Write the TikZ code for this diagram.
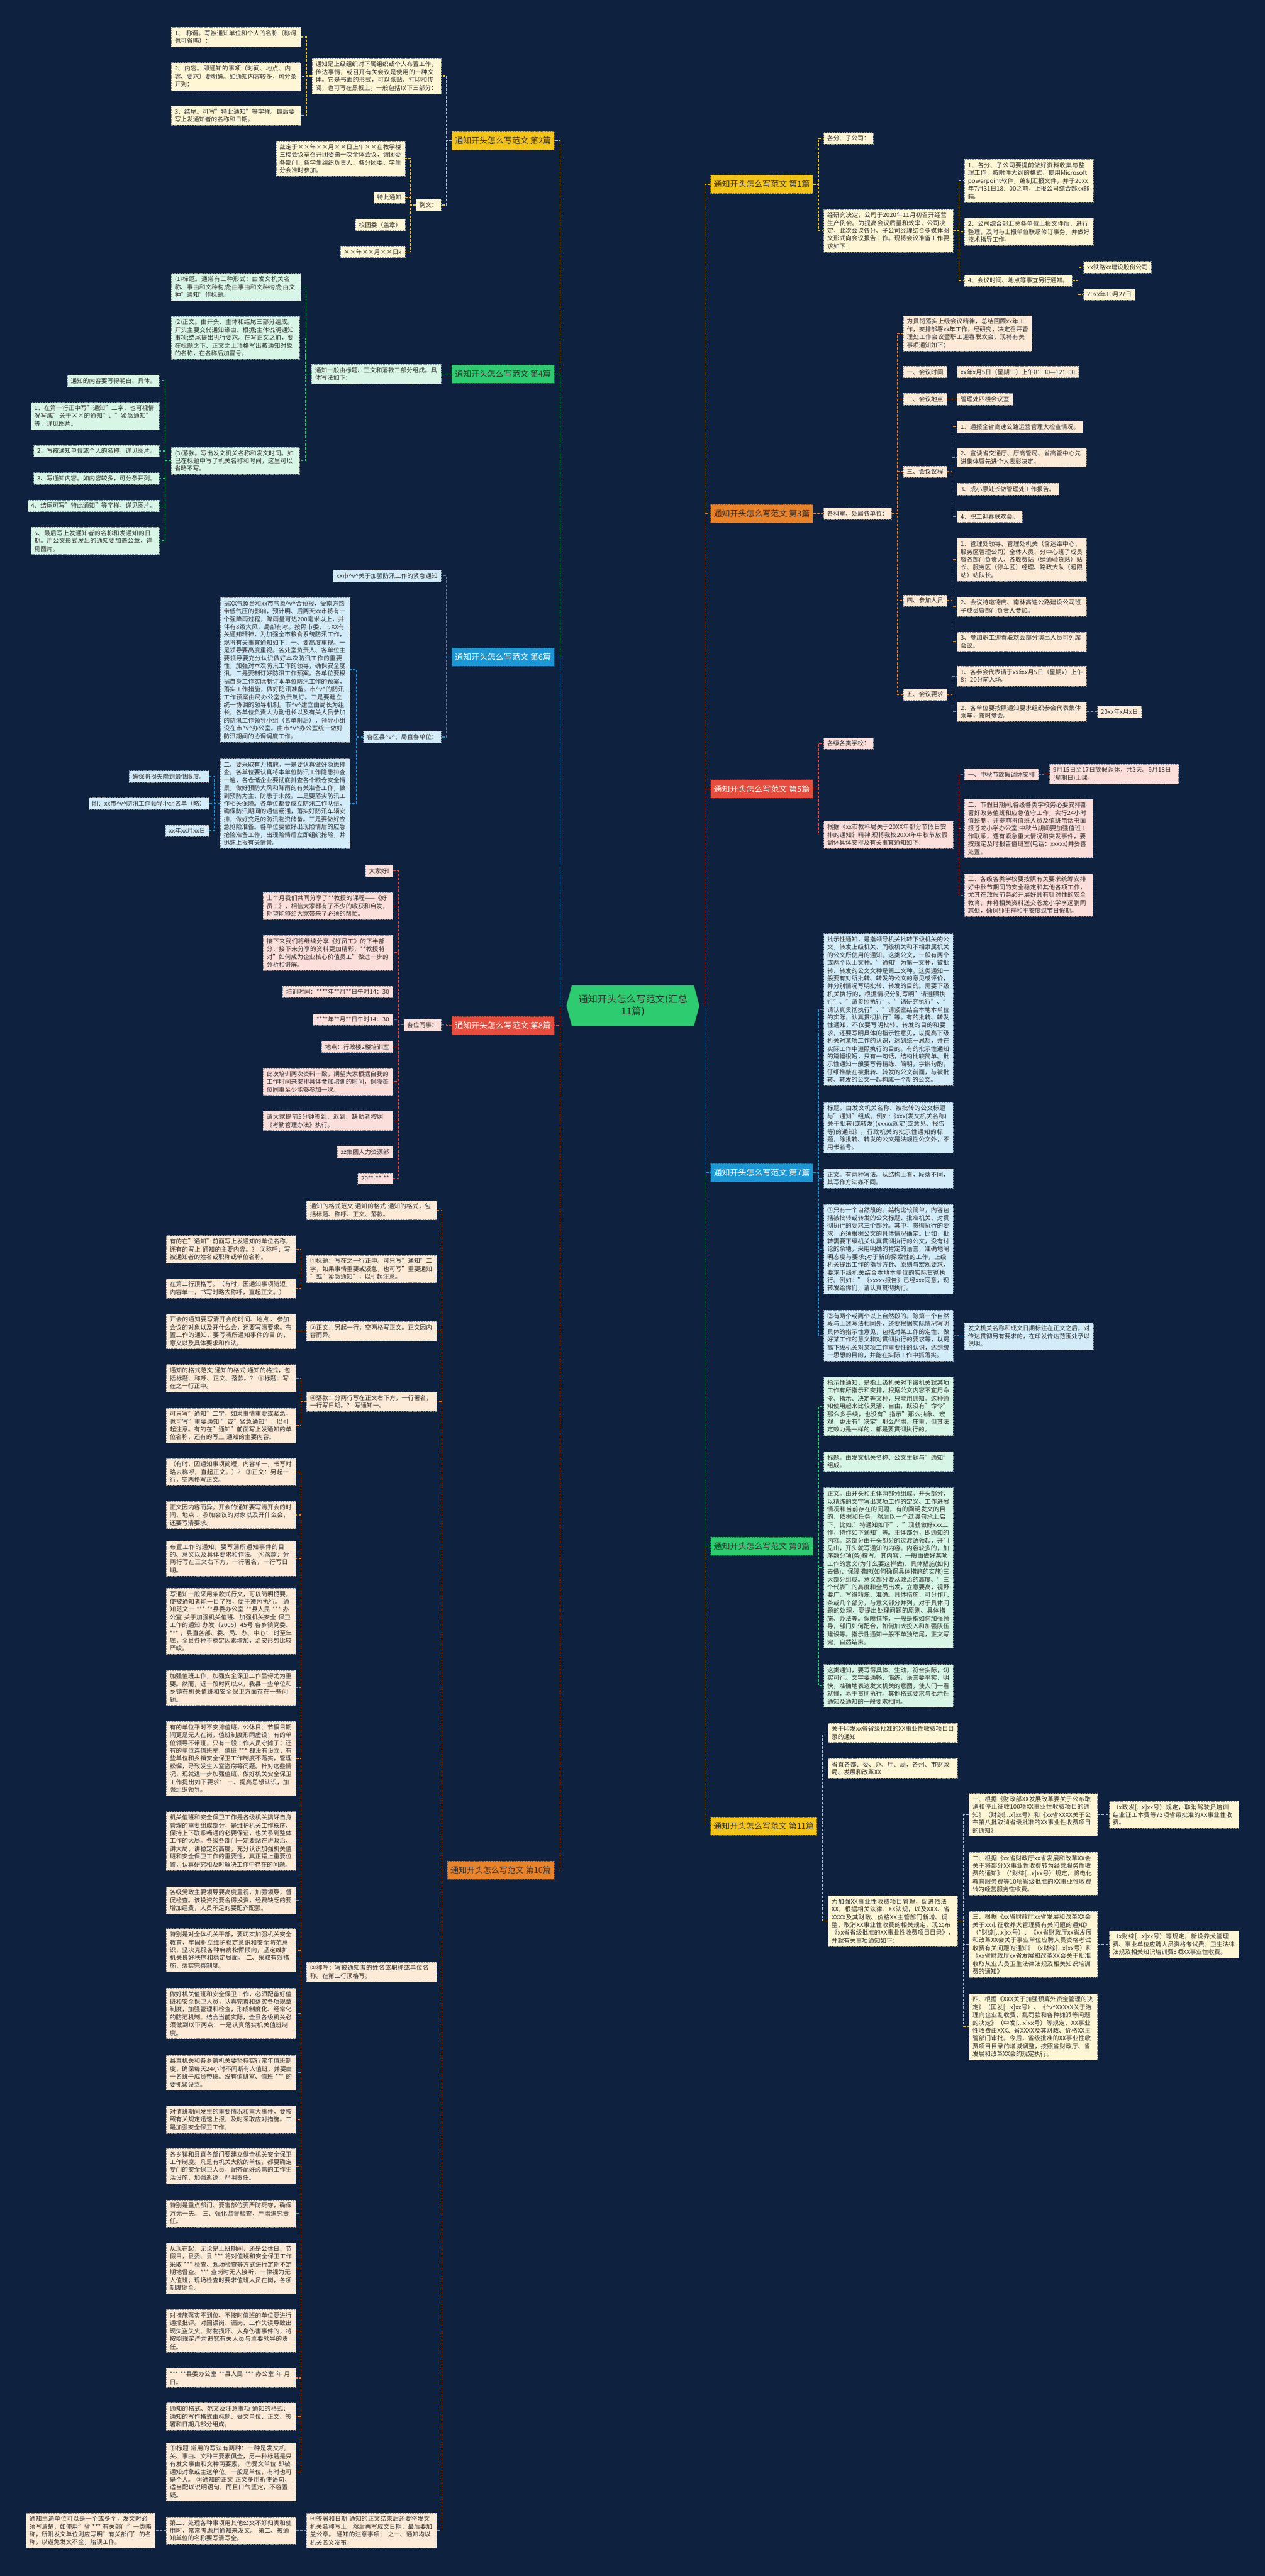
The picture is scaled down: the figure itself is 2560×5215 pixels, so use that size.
\documentclass[tikz,border=0pt]{standalone}
\usepackage{fontspec}
\setmainfont{Noto Sans CJK SC}
\usetikzlibrary{calc,shapes.symbols}
\XeTeXlinebreaklocale "zh"
\XeTeXlinebreakskip=0pt plus 1pt
\definecolor{bg}{HTML}{0E2240}
\definecolor{cY}{HTML}{F3C316}
\definecolor{cO}{HTML}{E8832A}
\definecolor{cG}{HTML}{2ECC71}
\definecolor{cR}{HTML}{E74C3C}
\definecolor{cB}{HTML}{1C97D6}
\definecolor{fY}{HTML}{FEF6D5}
\definecolor{fO}{HTML}{FDEBD8}
\definecolor{fG}{HTML}{D8F6E5}
\definecolor{fR}{HTML}{FCDEDA}
\definecolor{fB}{HTML}{D3ECFA}
\definecolor{txt}{HTML}{2E2E2E}
\newcommand\vv{\textasciicircum v\textasciicircum}
\newcommand\er[3]{\draw[#1] (#2.east) -| ($(#2.east)!.5!(#3.west)$) |- (#3.west);}
\newcommand\el[3]{\draw[#1] (#2.west) -| ($(#2.west)!.5!(#3.east)$) |- (#3.east);}
\tikzset{
 leaf/.style={rectangle, align=left, inner xsep=7pt, inner ysep=6pt, font=\fontsize{12.3}{15.8}\selectfont, text=txt, draw=black!45, dash pattern=on 3pt off 2pt, line width=0.7pt},
 ly/.style={leaf, fill=fY}, lo/.style={leaf, fill=fO}, lg/.style={leaf, fill=fG},
 lr/.style={leaf, fill=fR}, lb/.style={leaf, fill=fB},
 tw/.style={text width=#1pt},
 brn/.style={rectangle, minimum width=207pt, minimum height=37pt, inner xsep=5pt, font=\fontsize{16.5}{19}\selectfont, dash pattern=on 3pt off 2pt, line width=0.8pt},
 bY/.style={brn, fill=cY, draw=cY!55!black, text=txt},
 bO/.style={brn, fill=cO, draw=cO!55!black, text=txt},
 bG/.style={brn, fill=cG, draw=cG!55!black, text=txt},
 bR/.style={brn, fill=cR, draw=cR!55!black, text=white},
 bB/.style={brn, fill=cB, draw=cB!55!black, text=white},
 ln/.style={dash pattern=on 5pt off 3pt, line width=1.6pt},
 kY/.style={ln, draw=cY}, kO/.style={ln, draw=cO}, kG/.style={ln, draw=cG},
 kR/.style={ln, draw=cR}, kB/.style={ln, draw=cB},
 central/.style={signal, signal to=west and east, signal pointer angle=150, fill=cG, draw=cG!70!black, minimum width=269pt, minimum height=82pt, align=center, text=txt, font=\fontsize{19.5}{25}\selectfont}
}
\begin{document}
\begin{tikzpicture}[x=1pt,y=-1pt]
\useasboundingbox (0,0) rectangle (2560,5215);
\fill[bg] (0,0) rectangle (2560,5215);

% ---------------- central
\node[central] (c) at (1281,2036) {通知开头怎么写范文(汇总\\11篇)};

% ---------------- branches
\node[bY, anchor=east] (b2) at (1122,285) {通知开头怎么写范文 第2篇};
\node[bG, anchor=east] (b4) at (1122,757) {通知开头怎么写范文 第4篇};
\node[bB, anchor=east] (b6) at (1122,1330) {通知开头怎么写范文 第6篇};
\node[bR, anchor=east] (b8) at (1122,2076) {通知开头怎么写范文 第8篇};
\node[bO, anchor=east, minimum width=216pt] (b10) at (1122,3786) {通知开头怎么写范文 第10篇};
\node[bY, anchor=west] (b1) at (1438,373) {通知开头怎么写范文 第1篇};
\node[bO, anchor=west] (b3) at (1438,1040) {通知开头怎么写范文 第3篇};
\node[bR, anchor=west] (b5) at (1438,1597) {通知开头怎么写范文 第5篇};
\node[bB, anchor=west] (b7) at (1438,2374) {通知开头怎么写范文 第7篇};
\node[bG, anchor=west] (b9) at (1438,3130) {通知开头怎么写范文 第9篇};
\node[bY, anchor=west, minimum width=215pt] (b11) at (1438,3697) {通知开头怎么写范文 第11篇};

% ---------------- branch 2
\node[ly, tw=247, anchor=east] (b2a) at (893,154) {通知是上级组织对下属组织或个人布置工作，传达事情，或召开有关会议是使用的一种文体。它是书面的形式，可以张贴、打印和传阅，也可写在黑板上。一般包括以下三部分：};
\node[ly, tw=248, anchor=east] (b2a1) at (609,75) {1、 称谓。写被通知单位和个人的名称（称谓也可省略）；};
\node[ly, tw=248, anchor=east] (b2a2) at (609,155) {2、内容。即通知的事项（时间、地点、内容、要求）要明确。如通知内容较多，可分条开列；};
\node[ly, tw=248, anchor=east] (b2a3) at (609,234) {3、结尾。可写"特此通知"等字样。最后要写上发通知者的名称和日期。};
\node[ly, anchor=east] (b2b) at (893,415) {例文：};
\node[ly, tw=247, anchor=east] (b2b1) at (820,321) {兹定于××年××月××日上午××在教学楼三楼会议室召开团委第一次全体会议，请团委各部门、各学生组织负责人、各分团委、学生分会准时参加。};
\node[ly, anchor=east] (b2b2) at (820,400) {特此通知};
\node[ly, anchor=east] (b2b3) at (820,455) {校团委（盖章）};
\node[ly, anchor=east] (b2b4) at (820,510) {××年××月××日x};
\el{kY}{b2}{b2a} \el{kY}{b2}{b2b}
\el{kY}{b2a}{b2a1} \el{kY}{b2a}{b2a2} \el{kY}{b2a}{b2a3}
\el{kY}{b2b}{b2b1} \el{kY}{b2b}{b2b2} \el{kY}{b2b}{b2b3} \el{kY}{b2b}{b2b4}

% ---------------- branch 4
\node[lg, tw=248, anchor=east] (b4a) at (893,757) {通知一般由标题、正文和落款三部分组成。具体写法如下：};
\node[lg, tw=248, anchor=east] (b4a1) at (609,581) {(1)标题。通常有三种形式：由发文机关名称、事由和文种构成;由事由和文种构成;由文种"通知"作标题。};
\node[lg, tw=246, anchor=east] (b4a2) at (607,684) {(2)正文。由开头、主体和结尾三部分组成。开头主要交代通知缘由、根据;主体说明通知事项;结尾提出执行要求。在写正文之前，要在标题之下、正文之上顶格写出被通知对象的名称，在名称后加冒号。};
\node[lg, tw=246, anchor=east] (b4a3) at (607,933) {(3)落款。写出发文机关名称和发文时间。如已在标题中写了机关名称和时间，这里可以省略不写。};
\node[lg, anchor=east] (b4c1) at (323,771) {通知的内容要写得明白、具体。};
\node[lg, tw=246, anchor=east] (b4c2) at (323,842) {1、在第一行正中写"通知"二字，也可视情况写成"关于××的通知"、"紧急通知"等，详见图片。};
\node[lg, anchor=east] (b4c3) at (323,913) {2、写被通知单位或个人的名称，详见图片。};
\node[lg, anchor=east] (b4c4) at (323,969) {3、写通知内容。如内容较多，可分条开列。};
\node[lg, anchor=east] (b4c5) at (323,1024) {4、结尾可写"特此通知"等字样，详见图片。};
\node[lg, tw=246, anchor=east] (b4c6) at (323,1095) {5、最后写上发通知者的名称和发通知的日期。用公文形式发出的通知要加盖公章，详见图片。};
\el{kG}{b4}{b4a}
\el{kG}{b4a}{b4a1} \el{kG}{b4a}{b4a2} \el{kG}{b4a}{b4a3}
\el{kG}{b4a3}{b4c1} \el{kG}{b4a3}{b4c2} \el{kG}{b4a3}{b4c3} \el{kG}{b4a3}{b4c4} \el{kG}{b4a3}{b4c5} \el{kG}{b4a3}{b4c6}

% ---------------- branch 6
\node[lb, anchor=east] (b6a) at (893,1166) {xx市\vv{}关于加强防汛工作的紧急通知};
\node[lb, anchor=east] (b6b) at (893,1492) {各区县\vv{}、局直各单位：};
\node[lb, tw=248, anchor=east] (b6b1) at (708,1356) {据XX气象台和xx市气象\vv{}合预报，受南方热带低气压的影响，预计明、后两天xx市将有一个强降雨过程，降雨量可达200毫米以上，并伴有8级大风，局部有冰。按照市委、市XX有关通知精神，为加强全市粮食系统防汛工作，现将有关事宜通知如下：一、要高度重视。一是领导要高度重视。各处室负责人、各单位主要领导要充分认识做好本次防汛工作的重要性，加强对本次防汛工作的领导，确保安全度汛。二是要制订好防汛工作预案。各单位要根据自身工作实际制订本单位防汛工作的预案，落实工作措施，做好防汛准备。市\vv{}的防汛工作预案由局办公室负责制订。三是要建立统一协调的领导机制。市\vv{}建立由局长为组长，各单位负责人为副组长以及有关人员参加的防汛工作领导小组（名单附后），领导小组设在市\vv{}办公室。由市\vv{}办公室统一做好防汛期间的协调调度工作。};
\node[lb, tw=248, anchor=east] (b6b2) at (708,1627) {二、要采取有力措施。一是要认真做好隐患排查。各单位要认真将本单位防汛工作隐患排查一遍，各仓储企业要彻底排查各个粮仓安全情景，做好预防大风和降雨的有关准备工作，做到预防为主，防患于未然。二是要落实防汛工作相关保障。各单位都要成立防汛工作队伍，确保防汛期间的通信畅通，落实好防汛车辆安排，做好充足的防汛物资储备。三是要做好应急抢险准备。各单位要做好出现险情后的应急抢险准备工作，出现险情后立即组织抢险，并迅速上报有关情景。};
\node[lb, anchor=east] (b6c1) at (423,1572) {确保将损失降到最低限度。};
\node[lb, anchor=east] (b6c2) at (423,1627) {附：xx市\vv{}防汛工作领导小组名单（略）};
\node[lb, anchor=east] (b6c3) at (423,1682) {xx年xx月xx日};
\el{kB}{b6}{b6a} \el{kB}{b6}{b6b}
\el{kB}{b6b}{b6b1} \el{kB}{b6b}{b6b2}
\el{kB}{b6b2}{b6c1} \el{kB}{b6b2}{b6c2} \el{kB}{b6b2}{b6c3}

% ---------------- branch 8
\node[lr, anchor=east] (b8a) at (893,2075) {各位同事：};
\node[lr, anchor=east] (b8c1) at (795,1763) {大家好!};
\node[lr, tw=248, anchor=east] (b8c2) at (795,1834) {上个月我们共同分享了**教授的课程——《好员工》，相信大家都有了不少的收获和启发，期望能够给大家带来了必须的帮忙。};
\node[lr, tw=248, anchor=east] (b8c3) at (795,1929) {接下来我们将继续分享《好员工》的下半部分，接下来分享的资料更加精彩，**教授将对"如何成为企业核心价值员工"做进一步的分析和讲解。};
\node[lr, anchor=east] (b8c4) at (795,2008) {培训时间：****年**月**日午时14：30};
\node[lr, anchor=east] (b8c5) at (795,2064) {****年**月**日午时14：30};
\node[lr, anchor=east] (b8c6) at (795,2119) {地点：行政楼2楼培训室};
\node[lr, tw=248, anchor=east] (b8c7) at (795,2190) {此次培训两次资料一致，期望大家根据自我的工作时间来安排具体参加培训的时间，保障每位同事至少能够参加一次。};
\node[lr, tw=248, anchor=east] (b8c8) at (795,2269) {请大家提前5分钟签到，迟到、缺勤者按照《考勤管理办法》执行。};
\node[lr, anchor=east] (b8c9) at (795,2332) {zz集团人力资源部};
\node[lr, anchor=east] (b8c10) at (795,2386) {20**-**-**};
\el{kR}{b8}{b8a}
\foreach \i in {1,...,10} {\el{kR}{b8a}{b8c\i}}

% ---------------- branch 10
\node[lo, tw=249, anchor=east] (b10a1) at (884,2450) {通知的格式范文 通知的格式 通知的格式，包括标题、称呼、正文、落款。};
\node[lo, tw=249, anchor=east] (b10a2) at (884,2569) {①标题：写在之一行正中。可只写"通知"二字，如果事情重要或紧急，也可写"重要通知 "或"紧急通知"，以引起注意。};
\node[lo, tw=249, anchor=east] (b10a3) at (884,2695) {③正文：另起一行，空两格写正文。正文因内容而异。};
\node[lo, tw=249, anchor=east] (b10a4) at (884,2838) {④落款：分两行写在正文右下方，一行署名，一行写日期。？ 写通知一。};
\node[lo, tw=249, anchor=east] (b10a5) at (884,3992) {②称呼：写被通知者的姓名或职称或单位名称。在第二行顶格写。};
\node[lo, tw=249, anchor=east] (b10a6) at (884,5123) {④签署和日期 通知的正文结束后还要将发文机关名称写上，然后再写成文日期，最后要加盖公章。 通知的注意事项： 之一、通知均以机关名义发布。};
\node[lo, tw=248, anchor=east] (b10b1) at (599,2529) {有的在"通知"前面写上发通知的单位名称，还有的写上 通知的主要内容。？ ②称呼：写被通知者的姓名或职称或单位名称。};
\node[lo, tw=248, anchor=east] (b10b2) at (599,2608) {在第二行顶格写。（有时，因通知事项简短，内容单一，书写时略去称呼，直起正文。）};
\node[lo, tw=248, anchor=east] (b10b3) at (599,2695) {开会的通知要写清开会的时间、地点 、参加会议的对象以及开什么会，还要写清要求。布置工作的通知，要写清所通知事件的目 的、意义以及具体要求和作法。};
\node[lo, tw=248, anchor=east] (b10b4) at (599,2790) {通知的格式范文 通知的格式 通知的格式，包括标题、称呼、正文、落款。？ ①标题：写在之一行正中。};
\node[lo, tw=248, anchor=east] (b10b5) at (599,2886) {可只写"通知"二字，如果事情重要或紧急，也可写"重要通知 "或"紧急通知"，以引起注意。有的在"通知"前面写上发通知的单位名称，还有的写上 通知的主要内容。};
\node[lo, tw=248, anchor=east] (b10d1) at (599,2980) {（有时，因通知事项简短，内容单一，书写时略去称呼，直起正文。）？ ③正文：另起一行，空两格写正文。};
\node[lo, tw=248, anchor=east] (b10d2) at (599,3067) {正文因内容而异。开会的通知要写清开会的时间、地点 、参加会议的对象以及开什么会，还要写清要求。};
\node[lo, tw=248, anchor=east] (b10d3) at (599,3155) {布置工作的通知，要写清所通知事件的目 的、意义以及具体要求和作法。 ④落款：分两行写在正文右下方，一行署名，一行写日期。};
\node[lo, tw=248, anchor=east] (b10d4) at (599,3282) {写通知一般采用条款式行文，可以简明扼要，使被通知者能一目了然，便于遵照执行。 通知范文一 *** **县委办公室 **县人民 *** 办公室 关于加强机关值班、加强机关安全 保卫工作的通知 办发〔2005〕45号 各乡镇党委、 *** ，县直各部、委、局、办、中心： 时至年底，全县各种不稳定因素增加，治安形势比较严峻。};
\node[lo, tw=248, anchor=east] (b10d5) at (599,3417) {加强值班工作，加强安全保卫工作显得尤为重要。然而，近一段时间以来，我县一些单位和乡镇在机关值班和安全保卫方面存在一些问题。};
\node[lo, tw=248, anchor=east] (b10d6) at (599,3560) {有的单位平时不安排值班，公休日、节假日期间更是无人在岗，值班制度形同虚设；有的单位领导不带班，只有一般工作人员守摊子；还有的单位连值班室、值班 *** 都没有设立，有些单位和乡镇安全保卫工作制度不落实，管理松懈，导致发生入室盗窃等问题。针对这些情况，现就进一步加强值班、做好机关安全保卫工作提出如下要求： 一、提高思想认识，加强组织领导。};
\node[lo, tw=248, anchor=east] (b10d7) at (599,3727) {机关值班和安全保卫工作是各级机关搞好自身管理的重要组成部分，是维护机关工作秩序、保持上下联系畅通的必要保证，也关系到整体工作的大局。各级各部门一定要站在讲政治、讲大局、讲稳定的高度，充分认识加强机关值班和安全保卫工作的重要性，真正摆上重要位置，认真研究和及时解决工作中存在的问题。};
\node[lo, tw=248, anchor=east] (b10d8) at (599,3847) {各级党政主要领导要高度重视，加强领导，督促检查。该投资的要舍得投资，经费缺乏的要增加经费，人员不足的要配齐配强。};
\node[lo, tw=248, anchor=east] (b10d9) at (599,3948) {特别是对全体机关干部，要切实加强机关安全教育，牢固树立维护稳定意识和安全防范意识，坚决克服各种麻痹松懈倾向，坚定维护机关良好秩序和稳定局面。 二、采取有效措施，落实完善制度。};
\node[lo, tw=248, anchor=east] (b10d10) at (599,4076) {做好机关值班和安全保卫工作，必须配备好值班和安全保卫人员，认真完善和落实各项规章制度，加强管理和检查，形成制度化、经常化的防范机制。结合当前实际，全县各级机关必须做到以下两点：一是认真落实机关值班制度。};
\node[lo, tw=248, anchor=east] (b10d11) at (599,4196) {县直机关和各乡镇机关要坚持实行常年值班制度，确保每天24小时不间断有人值班，并要由一名班子成员带班。没有值班室、值班 *** 的要抓紧设立。};
\node[lo, tw=248, anchor=east] (b10d12) at (599,4291) {对值班期间发生的重要情况和重大事件，要按照有关规定迅速上报，及时采取应对措施。二是加强安全保卫工作。};
\node[lo, tw=248, anchor=east] (b10d13) at (599,4385) {各乡镇和县直各部门要建立健全机关安全保卫工作制度。凡是有机关大院的单位，都要确定专门的安全保卫人员，配齐配好必需的工作生活设施，加强巡逻，严明责任。};
\node[lo, tw=248, anchor=east] (b10d14) at (599,4481) {特别是重点部门、要害部位要严防死守，确保万无一失。 三、强化监督检查，严肃追究责任。};
\node[lo, tw=248, anchor=east] (b10d15) at (599,4592) {从现在起，无论是上班期间，还是公休日、节假日，县委、县 *** 将对值班和安全保卫工作采取 *** 检查、现场检查等方式进行定期不定期地督查。*** 查岗时无人接听，一律视为无人值班；现场检查时要求值班人员在岗，各项制度健全。};
\node[lo, tw=248, anchor=east] (b10d16) at (599,4719) {对措施落实不到位、不按时值班的单位要进行通报批评。对因误岗、漏岗、工作失误导致出现失盗失火、财物损坏、人身伤害事件的，将按照规定严肃追究有关人员与主要领导的责任。};
\node[lo, tw=248, anchor=east] (b10d17) at (599,4814) {*** **县委办公室 **县人民 *** 办公室 年 月 日。};
\node[lo, tw=248, anchor=east] (b10d18) at (599,4892) {通知的格式、范文及注意事项 通知的格式：通知的写作格式由标题、受文单位、正文、签署和日期几部分组成。};
\node[lo, tw=248, anchor=east] (b10d19) at (599,5004) {①标题 常用的写法有两种：一种是发文机关、事由、文种三要素俱全，另一种标题是只有发文事由和文种两要素， ②受文单位 即被通知对象或主送单位，一般是单位，有时也可是个人。 ③通知的正文 正文多用祈使语句，适当配以说明语句，而且口气坚定，不容置疑。};
\node[lo, tw=248, anchor=east] (b10e1) at (599,5123) {第二、处理各种事项用其他公文不好归类和使用时，常常考虑用通知来发文。 第二、被通知单位的名称要写清写全。};
\node[lo, tw=247, anchor=east] (b10e2) at (314,5123) {通知主送单位可以是一个或多个，发文时必须写清楚，如使用"省 *** 有关部门"一类略称，所附发文单位则应写明"有关部门"的名称，以避免发文不全，贻误工作。};
\foreach \i in {1,...,6} {\el{kO}{b10}{b10a\i}}
\el{kO}{b10a2}{b10b1} \el{kO}{b10a2}{b10b2} \el{kO}{b10a3}{b10b3}
\el{kO}{b10a4}{b10b4} \el{kO}{b10a4}{b10b5}
\foreach \i in {1,...,19} {\el{kO}{b10a5}{b10d\i}}
\el{kO}{b10a6}{b10e1} \el{kO}{b10e1}{b10e2}

% ---------------- branch 1
\node[ly, anchor=west] (b1a) at (1667,280) {各分、子公司：};
\node[ly, tw=248, anchor=west] (b1b) at (1667,467) {经研究决定，公司于2020年11月初召开经营生产例会。为提高会议质量和效率，公司决定，此次会议各分、子公司经理结合多媒体图文形式向会议报告工作。现将会议准备工作要求如下：};
\node[ly, tw=247, anchor=west] (b1b1) at (1952,366) {1、各分、子公司要提前做好资料收集与整理工作，按附件大纲的格式，使用Microsoft powerpoint软件，编制汇报文件，并于20xx年7月31日18：00之前，上报公司综合部xx邮箱。};
\node[ly, tw=247, anchor=west] (b1b2) at (1952,469) {2、公司综合部汇总各单位上报文件后，进行整理，及时与上报单位联系修订事务，并做好技术指导工作。};
\node[ly, anchor=west] (b1b3) at (1952,568) {4、会议时间、地点等事宜另行通知。};
\node[ly, anchor=west] (b1d1) at (2193,541) {xx铁路xx建设股份公司};
\node[ly, anchor=west] (b1d2) at (2193,596) {20xx年10月27日};
\er{kY}{b1}{b1a} \er{kY}{b1}{b1b}
\er{kY}{b1b}{b1b1} \er{kY}{b1b}{b1b2} \er{kY}{b1b}{b1b3}
\er{kY}{b1b3}{b1d1} \er{kY}{b1b3}{b1d2}

% ---------------- branch 3
\node[lo, anchor=west] (b3a) at (1667,1040) {各科室、处属各单位：};
\node[lo, tw=246, anchor=west] (b3c1) at (1828,675) {为贯彻落实上级会议精神，总结回顾xx年工作，安排部署xx年工作，经研究，决定召开管理处工作会议暨职工迎春联欢会，现将有关事项通知如下；};
\node[lo, anchor=west] (b3c2) at (1828,753) {一、会议时间};
\node[lo, anchor=west] (b3c3) at (1828,808) {二、会议地点};
\node[lo, anchor=west] (b3c4) at (1828,955) {三、会议议程};
\node[lo, anchor=west] (b3c5) at (1828,1216) {四、参加人员};
\node[lo, anchor=west] (b3c6) at (1828,1406) {五、会议要求};
\node[lo, anchor=west] (b3d1) at (1937,753) {xx年x月5日（星期二）上午8：30—12：00};
\node[lo, anchor=west] (b3d2) at (1937,808) {管理处四楼会议室};
\node[lo, anchor=west] (b3e1) at (1937,864) {1、通报全省高速公路运营管理大检查情况。};
\node[lo, tw=248, anchor=west] (b3e2) at (1937,926) {2、宣读省交通厅、厅高管局、省高管中心先进集体暨先进个人表彰决定。};
\node[lo, anchor=west] (b3e3) at (1937,990) {3、成小原处长做管理处工作报告。};
\node[lo, anchor=west] (b3e4) at (1937,1046) {4、职工迎春联欢会。};
\node[lo, tw=248, anchor=west] (b3f1) at (1937,1133) {1、管理处领导、管理处机关（含运维中心、服务区管理公司）全体人员、分中心班子成员暨各部门负责人、各收费站（绿通验货站）站长、服务区（停车区）经理、路政大队（超限站）站队长。};
\node[lo, tw=248, anchor=west] (b3f2) at (1937,1228) {2、会议特邀德商、南林高速公路建设公司班子成员暨部门负责人参加。};
\node[lo, tw=248, anchor=west] (b3f3) at (1937,1299) {3、参加职工迎春联欢会部分演出人员可列席会议。};
\node[lo, tw=248, anchor=west] (b3g1) at (1937,1369) {1、各参会代表请于xx年x月5日（星期x）上午8；20分前入场。};
\node[lo, tw=248, anchor=west] (b3g2) at (1937,1441) {2、各单位要按照通知要求组织参会代表集体乘车，按时参会。};
\node[lo, anchor=west] (b3h1) at (2221,1441) {20xx年x月x日};
\er{kO}{b3}{b3a}
\foreach \i in {1,...,6} {\er{kO}{b3a}{b3c\i}}
\er{kO}{b3c2}{b3d1} \er{kO}{b3c3}{b3d2}
\foreach \i in {1,...,4} {\er{kO}{b3c4}{b3e\i}}
\foreach \i in {1,...,3} {\er{kO}{b3c5}{b3f\i}}
\er{kO}{b3c6}{b3g1} \er{kO}{b3c6}{b3g2} \er{kO}{b3g2}{b3h1}

% ---------------- branch 5
\node[lr, anchor=west] (b5a) at (1667,1505) {各级各类学校：};
\node[lr, tw=248, anchor=west] (b5b) at (1667,1690) {根据《xx市教科局关于20XX年部分节假日安排的通知》精神,现将我校20XX年中秋节放假调休具体安排及有关事宜通知如下：};
\node[lr, anchor=west] (b5c1) at (1952,1568) {一、中秋节放假调休安排};
\node[lr, tw=246, anchor=west] (b5c2) at (1952,1677) {二、节假日期间,各级各类学校务必要安排部署好政务值班和应急值守工作，实行24小时值班制，并提前将值班人员及值班电话书面报苍龙小学办公室;中秋节期间要加强值班工作联系，遇有紧急重大情况和突发事件，要按规定及时报告值班室(电话：xxxxx)并妥善处置。};
\node[lr, tw=246, anchor=west] (b5c3) at (1952,1812) {三、各级各类学校要按照有关要求统筹安排好中秋节期间的安全稳定和其他各项工作，尤其在放假前务必开展好具有针对性的安全教育，并将相关资料送交苍龙小学李远鹏同志处，确保师生祥和平安度过节日假期。};
\node[lr, tw=247, anchor=west] (b5d1) at (2124,1567) {9月15日至17日放假调休，共3天。9月18日(星期日)上课。};
\er{kR}{b5}{b5a} \er{kR}{b5}{b5b}
\er{kR}{b5b}{b5c1} \er{kR}{b5b}{b5c2} \er{kR}{b5b}{b5c3}
\er{kR}{b5c1}{b5d1}

% ---------------- branch 7
\node[lb, tw=248, anchor=west] (b7a) at (1667,2044) {批示性通知，是指领导机关批转下级机关的公文，转发上级机关、同级机关和不相隶属机关的公文所使用的通知。这类公文，一般有两个或两个以上文种。"通知"为第一文种，被批转、转发的公文文种是第二文种。这类通知一般要有对所批转、转发的公文的意见或评价，并分别情况写明批转、转发的目的。需要下级机关执行的，根据情况分别写明"请遵照执行"、"请参照执行"、"请研究执行"、"请认真贯彻执行"、"请紧密结合本地本单位的实际，认真贯彻执行"等。有的批转、转发性通知，不仅要写明批转、转发的目的和要求，还要写明具体的指示性意见，以提高下级机关对某项工作的认识，达到统一思想，并在实际工作中遵照执行的目的。有的批示性通知的篇幅很短，只有一句话，结构比较简单。批示性通知一般要写得精练、简明，字斟句酌，仔细推敲在被批转、转发的公文前面，与被批转、转发的公文一起构成一个新的公文。};
\node[lb, tw=248, anchor=west] (b7b) at (1667,2283) {标题。由发文机关名称、被批转的公文标题与"通知"组成。例如:《xxx(发文机关名称)关于批转(或转发)(xxxxx规定(或意见、报告等)的通知》。行政机关的批示性通知的标题，除批转、转发的公文是法规性公文外，不用书名号。};
\node[lb, tw=248, anchor=west] (b7c) at (1667,2386) {正文。有两种写法。从结构上看，段落不同，其写作方法亦不同。};
\node[lb, tw=248, anchor=west] (b7d) at (1667,2529) {①只有一个自然段的。结构比较简单，内容包括被批转或转发的公文标题、批准机关、对贯彻执行的要求三个部分。其中，贯彻执行的要求，必须根据公文的具体情况确定。比如，批转需要下级机关认真贯彻执行的公文，没有讨论的余地，采用明确的肯定的语言，准确地阐明态度与要求;对于新的探索性的工作，上级机关提出工作的指导方针、原则与宏观要求，要求下级机关结合本地本单位的实际贯彻执行。例如："《xxxxx报告》已经xxx同意，现转发给你们，请认真贯彻执行。};
\node[lb, tw=248, anchor=west] (b7e) at (1667,2704) {②有两个或两个以上自然段的。除第一个自然段与上述写法相同外，还要根据实际情况写明具体的指示性意见，包括对某工作的定性、做好某工作的意义和对贯彻执行的要求等，以提高下级机关对某项工作重要性的认识，达到统一思想的目的，并能在实际工作中抓落实。};
\node[lb, tw=247, anchor=west] (b7f) at (1952,2705) {发文机关名称和成文日期标注在正文之后，对传达贯彻另有要求的，在印发传达范围处予以说明。};
\er{kB}{b7}{b7a} \er{kB}{b7}{b7b} \er{kB}{b7}{b7c} \er{kB}{b7}{b7d} \er{kB}{b7}{b7e}
\er{kB}{b7e}{b7f}

% ---------------- branch 9
\node[lg, tw=248, anchor=west] (b9a) at (1667,2847) {指示性通知，是指上级机关对下级机关就某项工作有所指示和安排，根据公文内容不宜用命令、指示、决定等文种，只能用通知。这种通知使用起来比较灵活、自由，既没有"命令"那么多手续，也没有"指示"那么抽象、宏观，更没有"决定"那么严肃、庄重，但其法定效力是一样的，都是要贯彻执行的。};
\node[lg, tw=248, anchor=west] (b9b) at (1667,2959) {标题。由发文机关名称、公文主题与"通知"组成。};
\node[lg, tw=248, anchor=west] (b9c) at (1667,3174) {正文。由开头和主体两部分组成。开头部分，以精练的文字写出某项工作的定义、工作进展情况和当前存在的问题，有的阐明发文的目的、依据和任务，然后以一个过渡句承上启下，比如:"特通知如下"、"现就做好xxx工作，特作如下通知"等。主体部分，即通知的内容。这部分由开头部分的过渡语领起，开门见山，开头就写通知的内容。内容较多的，加序数分项(条)撰写。其内容，一般由做好某项工作的意义(为什么要这样做)、具体措施(如何去做)、保障措施(如何确保具体措施的实施)三大部分组成。意义部分要从政治的高度、"三个代表"的高度和全局出发，立意要高，视野要广，写得精炼、准确。具体措施，可分作几条或几个部分，与意义部分并列。对于具体问题的处理，要提出处理问题的原则、具体措施、办法等。保障措施，一般是指如何加强领导，部门如何配合，如何加大投入和加强队伍建设等。指示性通知一般不单独结尾，正文写完，自然结束。};
\node[lg, tw=248, anchor=west] (b9d) at (1667,3413) {这类通知，要写得具体、生动，符合实际，切实可行。文字要通畅、简练，语言要平实、明快，准确地表达发文机关的意图，使人们一看就懂，易于贯彻执行。其他格式要求与批示性通知及通知的一般要求相同。};
\er{kG}{b9}{b9a} \er{kG}{b9}{b9b} \er{kG}{b9}{b9c} \er{kG}{b9}{b9d}

% ---------------- branch 11
\node[ly, tw=248, anchor=west] (b11a) at (1676,3508) {关于印发xx省省级批准的XX事业性收费项目目录的通知};
\node[ly, tw=248, anchor=west] (b11b) at (1676,3580) {省直各部、委、办、厅、局，各州、市财政局、发展和改革XX};
\node[ly, tw=248, anchor=west] (b11c) at (1676,3889) {为加强XX事业性收费项目管理，促进依法XX，根据相关法律、XX法规，以及XXX、省XXXX及其财政、价格XX主管部门新增、调整、取消XX事业性收费的相关规定，现公布《xx省省级批准的XX事业性收费项目目录》，并就有关事项通知如下：};
\node[ly, tw=246, anchor=west] (b11c1) at (1961,3674) {一、根据《财政部XX发展改革委关于公布取消和停止征收100项XX事业性收费项目的通知》（财综[...x]xx号）和《xx省XXXX关于公布第八批取消省级批准的XX事业性收费项目的通知》};
\node[ly, tw=246, anchor=west] (b11c2) at (1961,3793) {二、根据《xx省财政厅xx省发展和改革XX会关于将部分XX事业性收费转为经营服务性收费的通知》（*财综[...x]xx号）规定，将电化教育服务费等10项省级批准的XX事业性收费转为经营服务性收费。};
\node[ly, tw=246, anchor=west] (b11c3) at (1961,3936) {三、根据《xx省财政厅xx省发展和改革XX会关于xx市征收养犬管理费有关问题的通知》（*财综[...x]xx号）、《xx省财政厅xx省发展和改革XX会关于事业单位应聘人员资格考试收费有关问题的通知》（x财综[...x]xx号）和《xx省财政厅xx省发展和改革XX会关于批准收取从业人员卫生法律法规及相关知识培训费的通知》};
\node[ly, tw=246, anchor=west] (b11c4) at (1961,4103) {四、根据《XXX关于加强预算外资金管理的决定》（国发[...x]xx号）、《\vv{}XXXXX关于治理向企业乱收费、乱罚款和各种摊派等问题的决定》（中发[...x]xx号）等规定，XX事业性收费由XXX、省XXXX及其财政、价格XX主管部门审批。今后，省级批准的XX事业性收费项目目录的增减调整，按照省财政厅、省发展和改革XX会的规定执行。};
\node[ly, tw=248, anchor=west] (b11d1) at (2245,3674) {（x政发[...x]xx号）规定，取消驾驶员培训结业证工本费等73项省级批准的XX事业性收费。};
\node[ly, tw=248, anchor=west] (b11d3) at (2245,3936) {（x财综[...x]xx号）等规定，新设养犬管理费、事业单位应聘人员资格考试费、卫生法律法规及相关知识培训费3项XX事业性收费。};
\er{kY}{b11}{b11a} \er{kY}{b11}{b11b} \er{kY}{b11}{b11c}
\foreach \i in {1,...,4} {\er{kY}{b11c}{b11c\i}}
\er{kY}{b11c1}{b11d1} \er{kY}{b11c3}{b11d3}

% ---------------- central links (far first)
\er{kY}{c}{b1} \er{kY}{c}{b11} \er{kO}{c}{b3} \er{kG}{c}{b9} \er{kR}{c}{b5} \er{kB}{c}{b7}
\el{kY}{c}{b2} \el{kO}{c}{b10} \el{kG}{c}{b4} \el{kB}{c}{b6} \el{kR}{c}{b8}
\end{tikzpicture}
\end{document}
